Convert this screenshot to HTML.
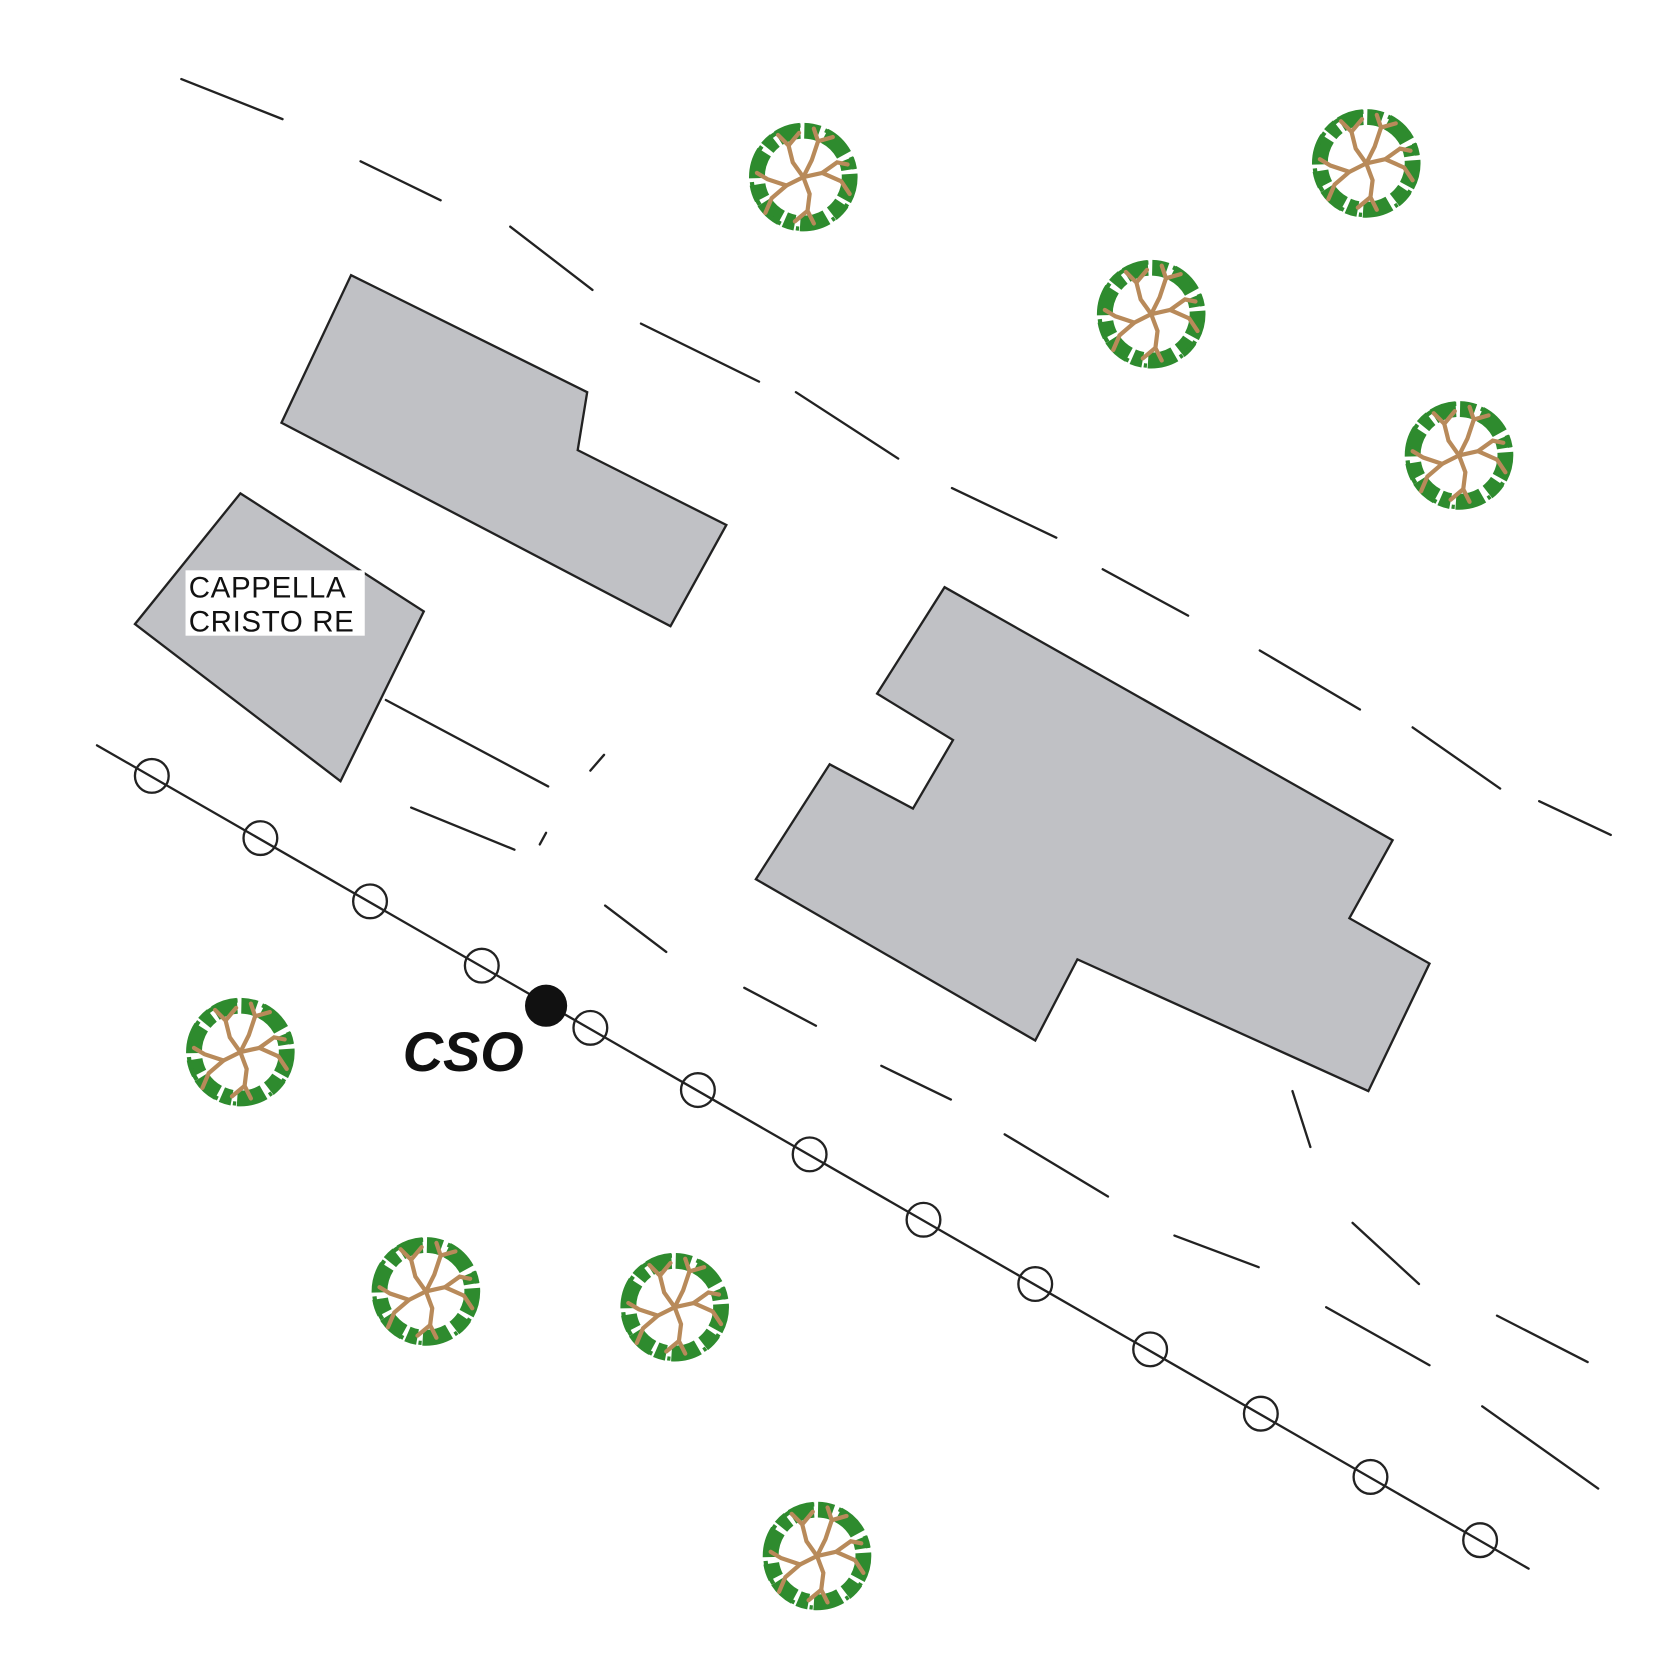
<!DOCTYPE html>
<html><head><meta charset="utf-8"><style>
html,body{margin:0;padding:0;background:#fff;}
svg{display:block;}
</style></head><body>
<svg width="1653" height="1653" viewBox="0 0 1568 1568" xmlns="http://www.w3.org/2000/svg">
<defs>
<symbol id="tree" viewBox="-55 -55 110 110" overflow="visible">
<circle r="44" fill="none" stroke="#2e8b2e" stroke-width="15" stroke-dasharray="22 4 14 6 26 5 10 4"/>
<circle r="49" fill="none" stroke="#2e8b2e" stroke-width="4" stroke-dasharray="5 4 3 6"/>
<g stroke="#b88a5a" stroke-width="4" fill="none" stroke-linecap="round">
<path d="M0 0 L-10 -14 L-14 -30 L-24 -40"/>
<path d="M-14 -30 L-4 -42"/>
<path d="M0 0 L8 -16 L14 -34 L10 -46"/>
<path d="M14 -34 L28 -38"/>
<path d="M0 0 L18 -4 L32 -14 L42 -12"/>
<path d="M18 -4 L36 4 L44 16"/>
<path d="M0 0 L6 16 L4 32 L10 44"/>
<path d="M4 32 L-8 42"/>
<path d="M0 0 L-16 8 L-30 20 L-36 34"/>
<path d="M-16 8 L-34 2 L-44 -4"/>
</g>
</symbol>
</defs>
<g stroke="#222" stroke-width="2.2" fill="none" stroke-linecap="round">
<line x1="172" y1="75" x2="268" y2="113"/>
<line x1="342" y1="153" x2="418" y2="190"/>
<line x1="484" y1="215" x2="562" y2="275"/>
<line x1="608" y1="307" x2="720" y2="362"/>
<line x1="755" y1="372" x2="852" y2="435"/>
<line x1="903" y1="463" x2="1002" y2="510"/>
<line x1="1046" y1="540" x2="1127" y2="584"/>
<line x1="1195" y1="617" x2="1290" y2="673"/>
<line x1="1340" y1="690" x2="1423" y2="748"/>
<line x1="1460" y1="760" x2="1528" y2="792"/>
<line x1="366" y1="664" x2="520" y2="746"/>
<line x1="560" y1="731" x2="573" y2="716"/>
<line x1="390" y1="766" x2="488" y2="806"/>
<line x1="512" y1="801" x2="518" y2="790"/>
<line x1="574" y1="859" x2="632" y2="903"/>
<line x1="706" y1="937" x2="774" y2="973"/>
<line x1="836" y1="1011" x2="902" y2="1043"/>
<line x1="953" y1="1076" x2="1051" y2="1135"/>
<line x1="1114" y1="1172" x2="1194" y2="1202"/>
<line x1="1258" y1="1240" x2="1356" y2="1295"/>
<line x1="1420" y1="1248" x2="1506" y2="1292"/>
<line x1="1406" y1="1334" x2="1516" y2="1412"/>
<line x1="1283" y1="1160" x2="1346" y2="1218"/>
<line x1="1226" y1="1035" x2="1243" y2="1088"/>
<line x1="92" y1="707" x2="1450" y2="1488"/>
</g>
<g fill="#c0c1c5" stroke="#222" stroke-width="2.2" stroke-linejoin="miter">
<polygon points="333,261 557,372 548,427 689,498 636,594 267,401"/>
<polygon points="228,468 402,580 323,741 128,592"/>
<polygon points="896,557 1321,797 1280,871 1356,914 1298,1035 1022,910 982,987 717,834 787,725 866,767 904,702 832,658"/>
</g>
<rect x="176" y="541" width="170" height="62" fill="#fff"/>
<text x="179" y="567" font-family="Liberation Sans, sans-serif" font-size="28" letter-spacing="0.6" fill="#111">CAPPELLA</text>
<text x="179" y="599" font-family="Liberation Sans, sans-serif" font-size="28" letter-spacing="0.6" fill="#111">CRISTO RE</text>
<g fill="none" stroke="#222" stroke-width="2.2">
<circle cx="144" cy="736" r="16"/><circle cx="247" cy="795" r="16"/><circle cx="351" cy="855" r="16"/>
<circle cx="457" cy="916" r="16"/><circle cx="560" cy="975" r="16"/><circle cx="662" cy="1034" r="16"/>
<circle cx="768" cy="1095" r="16"/><circle cx="876" cy="1157" r="16"/><circle cx="982" cy="1218" r="16"/>
<circle cx="1091" cy="1280" r="16"/><circle cx="1196" cy="1341" r="16"/><circle cx="1300" cy="1401" r="16"/>
<circle cx="1404" cy="1461" r="16"/>
</g>
<circle cx="518" cy="954" r="20" fill="#111"/>
<text x="382" y="1016" font-family="Liberation Sans, sans-serif" font-size="53" font-weight="bold" font-style="italic" fill="#111">CSO</text>
<use href="#tree" x="707" y="113" width="110" height="110"/>
<use href="#tree" x="1241" y="100" width="110" height="110"/>
<use href="#tree" x="1037" y="243" width="110" height="110"/>
<use href="#tree" x="1329" y="377" width="110" height="110"/>
<use href="#tree" x="173" y="943" width="110" height="110"/>
<use href="#tree" x="349" y="1170" width="110" height="110"/>
<use href="#tree" x="585" y="1185" width="110" height="110"/>
<use href="#tree" x="720" y="1421" width="110" height="110"/>
</svg>
</body></html>
